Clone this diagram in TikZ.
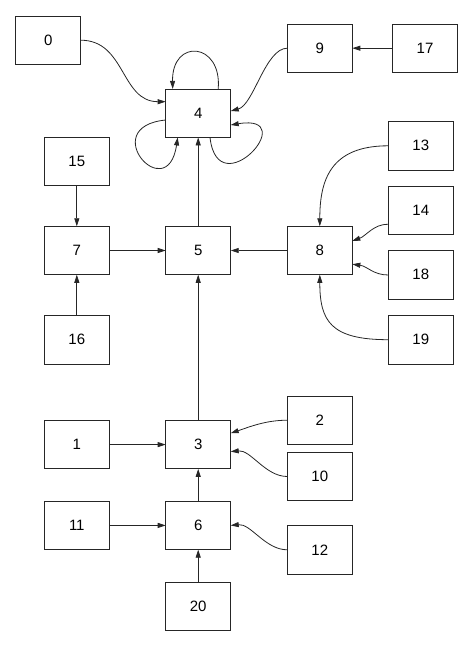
\documentclass[tikz,border=0pt]{standalone}
\usepackage{fontspec}
\setmainfont{Liberation Sans}
\usetikzlibrary{arrows.meta}
\begin{document}
\begin{tikzpicture}[x=1pt,y=-1pt,
  box/.style={draw=black!85, line width=0.8pt, minimum width=65pt, minimum height=48.5pt,
              inner sep=0pt, outer sep=0pt, font=\fontsize{15}{18}\selectfont},
  link/.style={draw=black!85, line width=0.8pt, -{Triangle[length=8pt,width=5pt]}}]
\useasboundingbox (0,0) rectangle (474,647);
\node[box] (n0)  at (48.2,40.2)  {0};
\node[box] (n4)  at (198.2,113.2) {4};
\node[box] (n9)  at (319.8,48.2) {9};
\node[box] (n17) at (425,48.2) {17};
\node[box] (n15) at (76.8,161.2) {15};
\node[box] (n7)  at (76.8,250.5) {7};
\node[box] (n5)  at (198.2,250.5) {5};
\node[box] (n8)  at (319.8,250.5) {8};
\node[box] (n13) at (420.8,145.8) {13};
\node[box] (n14) at (420.8,210.2) {14};
\node[box] (n18) at (420.8,274.8) {18};
\node[box] (n19) at (420.8,339.7) {19};
\node[box] (n16) at (76.8,339.7) {16};
\node[box] (n1)  at (76.8,444.6) {1};
\node[box] (n3)  at (198.2,444.6) {3};
\node[box] (n2)  at (319.8,420.2) {2};
\node[box] (n10) at (319.8,476.5) {10};
\node[box] (n11) at (76.8,525.4) {11};
\node[box] (n6)  at (198.2,525.4) {6};
\node[box] (n12) at (319.8,549.8) {12};
\node[box] (n20) at (198.2,606.2) {20};
% edges into 4
\draw[link] (n0.east) .. controls +(45,0) and +(-45,0) .. ([yshift=11.5pt]n4.west);
\draw[link] (n9.west) .. controls +(-22,0) and +(23,-6) .. ([yshift=2.2pt]n4.east);
\draw[link] (n17) -- (n9);
\draw[link] ([xshift=20pt]n4.north) .. controls +(4,-47) and +(-1,-51) .. ([xshift=-25.5pt]n4.north);
\draw[link] ([yshift=-6.8pt]n4.west) .. controls +(-70,7) and +(-10.5,70) .. ([xshift=-20.5pt]n4.south);
\draw[link] ([xshift=11.8pt]n4.south) .. controls +(8,70) and +(72,-12) .. ([yshift=-11.8pt]n4.east);
\draw[link] (n5) -- (n4);
% middle row
\draw[link] (n15) -- (n7);
\draw[link] (n16) -- (n7);
\draw[link] (n7) -- (n5);
\draw[link] (n8) -- (n5);
\draw[link] (n3) -- (n5);
\draw[link] (n13.west) .. controls +(-58,0) and +(0,-46) .. (n8.north);
\draw[link] ([yshift=-14pt]n14.west) .. controls +(-15,0) and +(14,-5) .. ([yshift=9.6pt]n8.east);
\draw[link] ([yshift=-0.2pt]n18.west) .. controls +(-15,0) and +(15,2) .. ([yshift=-13.7pt]n8.east);
\draw[link] (n19.west) .. controls +(-58,0) and +(0,46) .. (n8.south);
% bottom
\draw[link] (n1) -- (n3);
\draw[link] (n6) -- (n3);
\draw[link] (n2.west) .. controls +(-22,0) and +(18,-6) .. ([yshift=11.4pt]n3.east);
\draw[link] (n10.west) .. controls +(-22,0) and +(20,-2) .. ([yshift=-7pt]n3.east);
\draw[link] (n11) -- (n6);
\draw[link] (n20) -- (n6);
\draw[link] (n12.west) .. controls +(-22,0) and +(20,-2) .. (n6.east);
\end{tikzpicture}
\end{document}
